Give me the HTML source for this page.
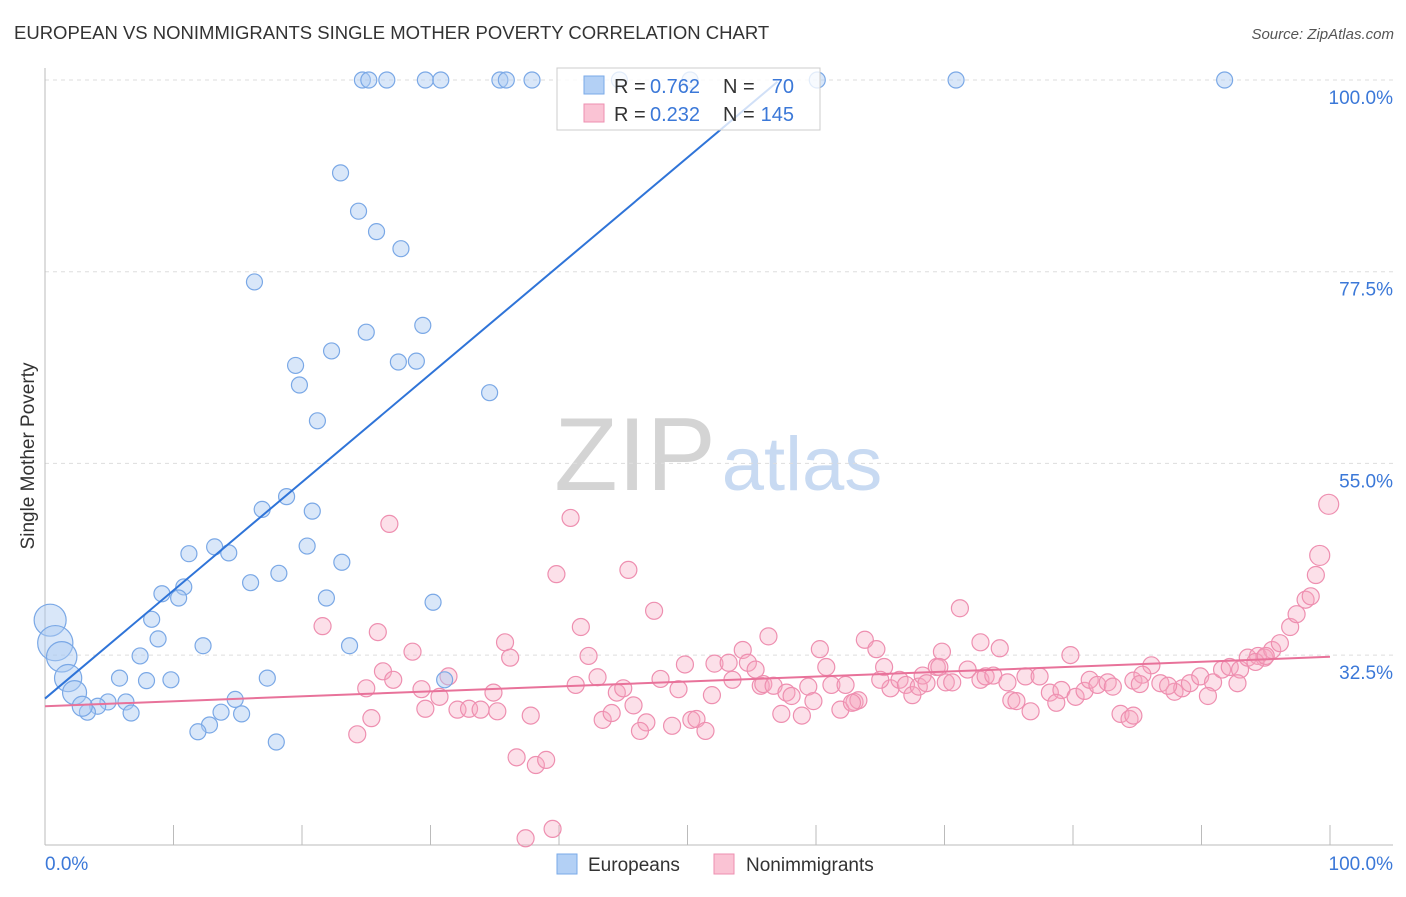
<!DOCTYPE html>
<html><head><meta charset="utf-8"><style>
body{margin:0;background:#fff;font-family:"Liberation Sans",sans-serif}
svg text{font-family:"Liberation Sans",sans-serif}
</style></head><body>
<svg id="c" width="1406" height="892">
<text x="14" y="39" font-size="18.5" fill="#333">EUROPEAN VS NONIMMIGRANTS SINGLE MOTHER POVERTY CORRELATION CHART</text>
<text x="1394" y="39" font-size="15" fill="#555" font-style="italic" text-anchor="end">Source: ZipAtlas.com</text>
<text x="0" y="0" transform="translate(34,456) rotate(-90)" font-size="19" fill="#333" text-anchor="middle">Single Mother Poverty</text>
<text x="635" y="490" font-size="104" fill="#d4d4d4" font-family="Liberation Serif" text-anchor="middle">ZIP</text>
<text x="802" y="490" font-size="76" fill="#c8daf2" text-anchor="middle">atlas</text>
<g id="grid"></g><g id="axes"></g>
<g id="pts"></g><g id="lines"></g>
<g>
<rect x="557" y="68" width="263" height="62" fill="#fff" fill-opacity="0.78" stroke="#ccc"/>
<rect x="584" y="76" width="20" height="18" fill="#b3d0f5" stroke="#7aaae8"/>
<rect x="584" y="104" width="20" height="18" fill="#fac3d4" stroke="#ee8fb0"/>
<text x="614" y="93" font-size="20" fill="#333">R =</text><text x="650" y="93" font-size="20" fill="#3b78d8">0.762</text>
<text x="723" y="93" font-size="20" fill="#333">N =</text><text x="794" y="93" font-size="20" fill="#3b78d8" text-anchor="end">70</text>
<text x="614" y="121" font-size="20" fill="#333">R =</text><text x="650" y="121" font-size="20" fill="#3b78d8">0.232</text>
<text x="723" y="121" font-size="20" fill="#333">N =</text><text x="794" y="121" font-size="20" fill="#3b78d8" text-anchor="end">145</text>
</g>
<g>
<rect x="557" y="854" width="20" height="20" fill="#b3d0f5" stroke="#7aaae8"/>
<text x="588" y="871" font-size="19" fill="#333">Europeans</text>
<rect x="714" y="854" width="20" height="20" fill="#fac3d4" stroke="#ee8fb0"/>
<text x="746" y="871" font-size="19" fill="#333">Nonimmigrants</text>
</g>
</svg>
<script>
const yTicks=[100,77.5,55,32.5];
const yTickLabels=["100.0%","77.5%","55.0%","32.5%"];
const xTicks=[0,10,20,30,40,50,60,70,80,90,100];
const blueX=[24.7,25.2,26.6,29.6,30.8,35.4,35.9,37.9,44.7,50.2,60.1,70.9,91.8,23.0,24.4,25.8,27.7,16.3,29.4,25.0,22.3,19.5,27.5,28.9,19.8,34.6,21.2,18.8,16.9,20.8,13.2,14.3,11.2,20.4,23.1,18.2,16.0,10.8,9.1,10.4,21.9,30.2,8.3,8.8,12.3,23.7,7.4,5.8,7.9,9.8,17.3,31.1,14.8,6.3,4.9,4.1,3.3,6.7,13.7,15.3,12.8,11.9,18.0,0.4,0.8,1.3,1.8,2.3,2.9];
const blueY=[100,100,100,100,100,100,100,100,100,100,100,100,100,89.1,84.6,82.2,80.2,76.3,71.2,70.4,68.2,66.5,66.9,67.0,64.2,63.3,60.0,51.1,49.6,49.4,45.2,44.5,44.4,45.3,43.4,42.1,41.0,40.5,39.7,39.2,39.2,38.7,36.7,34.4,33.6,33.6,32.4,29.8,29.5,29.6,29.8,29.6,27.3,27.0,27.0,26.5,25.8,25.7,25.8,25.6,24.3,23.5,22.3,36.6,33.9,32.3,29.8,28.1,26.5];
const blueSize=[1,1,1,1,1,1,1,1,1,1,1,1,1,1,1,1,1,1,1,1,1,1,1,1,1,1,1,1,1,1,1,1,1,1,1,1,1,1,1,1,1,1,1,1,1,1,1,1,1,1,1,1,1,1,1,1,1,1,1,1,1,1,1,2,2.2,1.9,1.7,1.5,1.25];
const pinkX=[26.8,40.9,39.8,45.4,47.4,71.2,21.6,25.9,41.7,56.3,35.8,63.8,72.8,36.2,28.6,42.3,54.3,60.3,64.7,69.8,74.3,79.8,26.3,31.4,25.0,27.1,29.3,30.7,34.9,41.3,43.0,44.5,45.0,47.9,49.3,49.8,51.9,52.1,53.2,53.5,54.7,55.3,55.7,55.9,56.7,57.7,58.1,59.4,59.8,60.8,61.2,62.3,63.0,63.3,65.3,65.8,66.5,67.0,67.5,68.0,68.3,68.6,69.4,70.1,70.6,71.8,72.8,73.2,73.8,74.9,76.3,77.4,78.2,79.1,80.2,80.9,81.3,81.9,82.7,83.1,84.7,86.1,85.4,86.8,87.9,88.5,89.1,89.9,90.9,91.6,92.2,93.0,93.6,94.4,94.9,95.5,96.1,96.9,97.4,98.1,98.5,98.9,99.2,99.9,29.6,32.1,33.0,33.9,35.2,37.8,43.4,44.1,45.8,46.8,46.3,48.8,50.3,50.7,51.4,57.3,58.9,61.9,62.8,75.2,75.6,76.7,78.7,83.7,84.4,84.7,25.4,24.3,36.7,38.2,39.0,37.4,39.5,90.5,92.8,85.2,87.4,69.6,65.0,94.2,95.0];
const pinkY=[47.9,48.6,42.0,42.5,37.7,38.0,35.9,35.2,35.8,34.7,34.0,34.3,34.0,32.2,32.9,32.4,33.1,33.2,33.2,32.9,33.3,32.5,30.6,30.0,28.6,29.6,28.5,27.6,28.1,29.0,29.9,28.1,28.6,29.7,28.5,31.4,27.8,31.5,31.6,29.6,31.6,30.8,28.9,29.1,28.9,28.1,27.7,28.8,27.1,31.1,29.0,29.0,27.0,27.2,31.1,28.6,29.6,29.0,27.8,28.8,30.1,29.2,31.1,29.3,29.3,30.8,29.6,30.0,30.1,29.3,30.0,30.0,28.1,28.4,27.6,28.3,29.6,29.0,29.3,28.8,29.5,31.3,30.2,29.2,28.2,28.6,29.2,30.0,29.3,30.8,31.1,30.8,32.2,32.4,32.2,33.1,33.9,35.8,37.3,39.0,39.4,41.9,44.2,50.2,26.2,26.1,26.2,26.1,25.9,25.4,24.9,25.7,26.6,24.6,23.6,24.2,24.9,25.0,23.6,25.6,25.4,26.1,26.9,27.2,27.1,25.9,26.9,25.6,25.0,25.4,25.1,23.2,20.5,19.6,20.2,11.0,12.1,27.7,29.2,29.1,28.9,31.1,29.6,31.7,32.4];
const blueFit=[27.4,1.27];
const pinkFit=[26.5,0.058];
const NS="http://www.w3.org/2000/svg";
const X=v=>45+v*12.85, Y=v=>80+(100-v)*8.52;
function mk(t,a,p){const e=document.createElementNS(NS,t);for(const k in a)e.setAttribute(k,a[k]);p.appendChild(e);return e;}
const grid=document.getElementById('grid'),axes=document.getElementById('axes');
yTicks.forEach((v,i)=>{
 const l=mk('line',{x1:45,x2:1393,y1:Y(v),y2:Y(v),stroke:'#ddd','stroke-dasharray':'4,4'},grid);
 
 
 const t=mk('text',{x:1393,y:Y(v)+24,'font-size':19,fill:'#3b78d8','text-anchor':'end'},axes);
 t.textContent=yTickLabels[i];
 
 
});
mk('line',{x1:45,x2:45,y1:68,y2:845,stroke:'#bbb'},axes);
mk('line',{x1:45,x2:1393,y1:845,y2:845,stroke:'#bbb'},axes);
xTicks.forEach(v=>{const l=mk('line',{x1:X(v),x2:X(v),y1:825,y2:845,stroke:'#bbb'},axes);
 
 });
let t=mk('text',{x:45,y:870,'font-size':19,fill:'#3b78d8'},axes);t.textContent='0.0%';


t=mk('text',{x:1393,y:870,'font-size':19,fill:'#3b78d8','text-anchor':'end'},axes);t.textContent='100.0%';


const pts=document.getElementById('pts');
pinkX.forEach((x,i)=>{const y=pinkY[i];const r=(x>99)?10:8.5;
 const c=mk('circle',{cx:X(x),cy:Y(y),r:r,fill:'rgba(245,165,192,0.35)',stroke:'#ee8fb0','stroke-width':1.2},pts);
 
 });
blueX.forEach((x,i)=>{
 const c=mk('circle',{cx:X(x),cy:Y(blueY[i]),r:8*blueSize[i],fill:'rgba(170,202,242,0.45)',stroke:'#7aa8e6','stroke-width':1.2},pts);
 
 });
const lines=document.getElementById('lines');
let bl=mk('line',{x1:X(0),y1:Y(blueFit[0]),x2:X(57),y2:Y(blueFit[0]+blueFit[1]*57),stroke:'#2f74d8','stroke-width':2},lines);


let pl=mk('line',{x1:X(0),y1:Y(pinkFit[0]),x2:X(100),y2:Y(pinkFit[0]+pinkFit[1]*100),stroke:'#e8729a','stroke-width':2},lines);


</script>
</body></html>
